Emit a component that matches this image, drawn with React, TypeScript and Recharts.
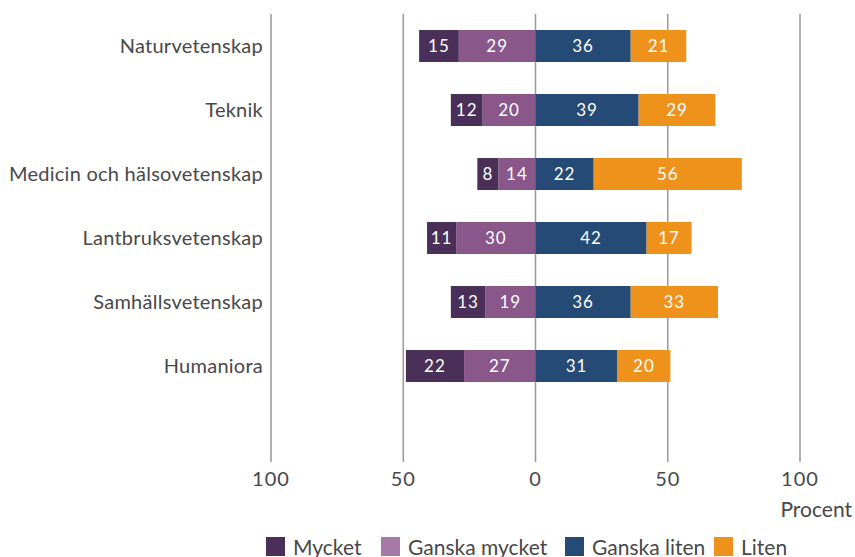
import { Bar, BarChart, CartesianGrid, Label, LabelList, Legend, XAxis, YAxis } from 'recharts'

const categories = [
  'Naturvetenskap',
  'Teknik',
  'Medicin och hälsovetenskap',
  'Lantbruksvetenskap',
  'Samhällsvetenskap',
  'Humaniora',
]
const mycket = [15, 12, 8, 11, 13, 22]
const ganskaMycket = [29, 20, 14, 30, 19, 27]
const ganskaLiten = [36, 39, 22, 42, 36, 31]
const liten = [21, 29, 56, 17, 33, 20]
const xTicks = [-100, -50, 0, 50, 100]

const legendItems = [
  { name: 'Mycket', color: '#4a3059' },
  { name: 'Ganska mycket', color: '#a67aa7' },
  { name: 'Ganska liten', color: '#254a75' },
  { name: 'Liten', color: '#ef921c' },
]
// slot widths of the legend entries, square to next square
const legendSlots = [115, 184, 149, 80]

// left-hand answers are stored as negatives so they grow away from zero
const data = categories.map((name, i) => ({
  name,
  mycket: -mycket[i],
  ganskaMycket: -ganskaMycket[i],
  ganskaLiten: ganskaLiten[i],
  liten: liten[i],
}))

const font = 'Lato, "Noto Sans", sans-serif'
const textColor = '#484848'
const abs = (v: unknown) => String(Math.abs(Number(v)))

const barLabel = { fill: '#fff', fontSize: 17, fontFamily: font, letterSpacing: 1 }

function LegendRow() {
  return (
    <div style={{ display: 'flex', height: 22, alignItems: 'center', paddingLeft: 266, fontFamily: font, fontSize: 21, color: textColor }}>
      {legendItems.map((it, i) => (
        <div key={it.name} style={{ display: 'flex', alignItems: 'center', width: legendSlots[i], whiteSpace: 'nowrap' }}>
          <span style={{ width: 19, height: 19, background: it.color, display: 'inline-block', marginRight: 8, flexShrink: 0 }} />
          <span>{it.name}</span>
        </div>
      ))}
    </div>
  )
}

export default function App() {
  return (
    <div style={{ position: 'absolute', left: 0, top: 0, width: 855, height: 557, background: '#fff' }}>
      <BarChart
        width={855}
        height={557}
        data={data}
        layout="vertical"
        stackOffset="sign"
        barSize={32}
        margin={{ top: 14, right: 55, left: 0, bottom: 0 }}
      >
        <CartesianGrid horizontal={false} stroke="#999" strokeWidth={1.5} />
        <XAxis
          type="number"
          domain={[-100, 100]}
          ticks={xTicks}
          interval={0}
          tickFormatter={abs}
          axisLine={false}
          tickLine={false}
          height={73}
          tick={{ fill: textColor, fontSize: 20, fontFamily: font, letterSpacing: 1, dy: 2 }}
        >
          <Label value="Procent" position="insideBottomRight" offset={18} dx={70} fill={textColor} fontSize={21} fontFamily={font} />
        </XAxis>
        <YAxis
          type="category"
          dataKey="name"
          width={271}
          axisLine={false}
          tickLine={false}
          padding={{ top: 0, bottom: 64 }}
          tick={{ fill: textColor, fontSize: 20, fontFamily: font, letterSpacing: 0.25 }}
        />
        <Legend verticalAlign="bottom" content={() => <LegendRow />} wrapperStyle={{ left: 0, width: 855 }} />
        <Bar dataKey="ganskaMycket" name="Ganska mycket" stackId="a" fill="#8a578b" isAnimationActive={false}>
          <LabelList dataKey="ganskaMycket" position="center" formatter={abs} style={barLabel} />
        </Bar>
        <Bar dataKey="mycket" name="Mycket" stackId="a" fill="#4a3059" isAnimationActive={false}>
          <LabelList dataKey="mycket" position="center" formatter={abs} style={barLabel} />
        </Bar>
        <Bar dataKey="ganskaLiten" name="Ganska liten" stackId="a" fill="#254a75" isAnimationActive={false}>
          <LabelList dataKey="ganskaLiten" position="center" formatter={abs} style={barLabel} />
        </Bar>
        <Bar dataKey="liten" name="Liten" stackId="a" fill="#ef921c" isAnimationActive={false}>
          <LabelList dataKey="liten" position="center" formatter={abs} style={barLabel} />
        </Bar>
      </BarChart>
    </div>
  )
}
